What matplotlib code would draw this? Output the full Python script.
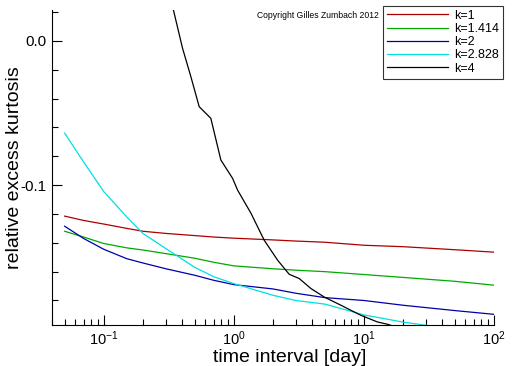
import matplotlib
matplotlib.use("Agg")
import matplotlib.pyplot as plt
from matplotlib.ticker import FixedLocator, LogLocator, NullFormatter

plt.rcParams['font.family'] = ['Liberation Sans', 'DejaVu Sans']

x_common = [0.05, 0.07, 0.1, 0.15, 0.2, 0.3, 0.5, 0.7, 1, 2, 3, 5, 10, 20, 50, 100]
k1 = [-0.1215, -0.1245, -0.127, -0.130, -0.132, -0.1335, -0.135, -0.136, -0.1368, -0.138, -0.1388,
      -0.1396, -0.1417, -0.1427, -0.1448, -0.1465]
k1414 = [-0.132, -0.136, -0.1405, -0.1435, -0.145, -0.1475, -0.1507, -0.1535, -0.156, -0.158, -0.159,
         -0.160, -0.162, -0.164, -0.1667, -0.1694]
k2 = [-0.1285, -0.137, -0.1445, -0.151, -0.154, -0.158, -0.1625, -0.166, -0.169, -0.172, -0.175,
      -0.178, -0.180, -0.1833, -0.187, -0.1896]
k2828 = [-0.0639, -0.084, -0.1045, -0.122, -0.1335, -0.144, -0.157, -0.1635, -0.1683, -0.1764,
         -0.180, -0.1825, -0.190, -0.195, -0.200, -0.204]
x_k4 = [0.3, 0.338, 0.403, 0.467, 0.541, 0.665, 0.794, 0.977, 1.068, 1.351, 1.71, 2.17, 2.66, 3.18,
        3.91, 4.95, 6.65, 9.48, 12.7, 15.2, 20]
k4 = [0.04, 0.0238, -0.0051, -0.0248, -0.0456, -0.0537, -0.0826, -0.0953, -0.1035, -0.1194, -0.1382,
      -0.1521, -0.1618, -0.1648, -0.1717, -0.1776, -0.1833, -0.1903, -0.1949, -0.1965, -0.200]

labels = ["k=1", "k=1.414", "k=2", "k=2.828", "k=4"]
colors = ["#aa0000", "#00aa00", "#0000aa", "#00e0e0", "#000000"]

fig = plt.figure(figsize=(5.12, 3.66), dpi=100)
ax = fig.add_axes([0.1016, 0.112, 0.8634, 0.861])

series = [(x_common, k1), (x_common, k1414), (x_common, k2), (x_common, k2828), (x_k4, k4)]
for (xs, ys), lab, c in zip(series, labels, colors):
    ax.plot(xs, ys, color=c, lw=0.9, label=lab)

ax.set_xscale('log')
ax.set_xlim(0.04, 100)
ax.set_ylim(-0.197, 0.0215)

for s in ['top', 'right']:
    ax.spines[s].set_visible(False)

ax.yaxis.set_major_locator(FixedLocator([-0.1, 0.0]))
ax.yaxis.set_minor_locator(FixedLocator([-0.18, -0.16, -0.14, -0.12, -0.08, -0.06, -0.04, -0.02, 0.02]))
ax.set_yticklabels(["-0.1", "0.0"])
ax.xaxis.set_major_locator(LogLocator(base=10, numticks=10))
ax.xaxis.set_minor_locator(LogLocator(base=10, subs=range(2, 10), numticks=20))
ax.xaxis.set_minor_formatter(NullFormatter())

ax.tick_params(which='major', direction='in', length=7, width=0.8, labelsize=11, colors='black')
ax.tick_params(axis='x', labelsize=10.5)
ax.tick_params(which='minor', direction='in', length=4, width=0.8)
ax.tick_params(axis='y', pad=4)

ax.set_xlabel("time interval [day]", fontsize=14)
ax.xaxis.set_label_coords(0.538, -0.075)
ax.set_ylabel("relative excess kurtosis", fontsize=14)
ax.yaxis.set_label_coords(-0.066, 0.5)

leg = ax.legend(loc='upper left', bbox_to_anchor=(383 / 512, 1 - 6 / 366), bbox_transform=fig.transFigure,
                fontsize=9, frameon=True, fancybox=False, edgecolor='black', handlelength=4.9,
                handletextpad=0.5, labelspacing=0.1, borderpad=0.3, borderaxespad=0)
leg.get_frame().set_linewidth(0.8)

fig.text(257 / 512, 1 - 15 / 366, "Copyright Gilles Zumbach 2012", fontsize=6.2, va='center', ha='left')

fig.savefig("out.png", dpi=100)
